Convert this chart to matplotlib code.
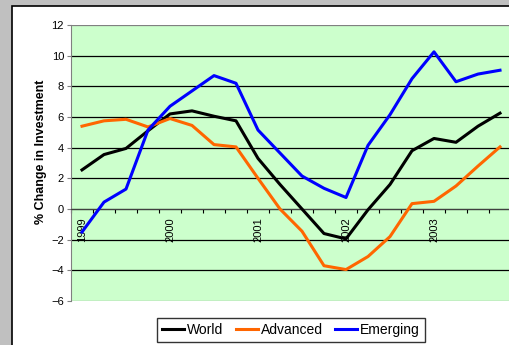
import numpy as np
import matplotlib.pyplot as plt
from matplotlib.patches import Rectangle

plt.rcParams['font.family'] = ['Liberation Sans', 'DejaVu Sans']

# quarterly % change in investment, 1999Q1 - 2003Q4
years = ["1999", "2000", "2001", "2002", "2003"]
world = [2.55, 3.55, 3.95, 5.1, 6.2, 6.4, 6.05, 5.75, 3.3, 1.6,
         0.0, -1.6, -1.95, -0.05, 1.6, 3.8, 4.6, 4.35, 5.4, 6.25]
advanced = [5.4, 5.75, 5.85, 5.35, 5.9, 5.45, 4.2, 4.05, 2.0, 0.0,
            -1.45, -3.7, -3.95, -3.1, -1.8, 0.35, 0.5, 1.5, 2.8, 4.05]
emerging = [-1.5, 0.45, 1.3, 5.15, 6.7, 7.7, 8.7, 8.2, 5.15, 3.65,
            2.15, 1.35, 0.75, 4.15, 6.15, 8.5, 10.25, 8.3, 8.8, 9.05]

W, H = 509, 345
fig = plt.figure(figsize=(W / 100, H / 100), dpi=100)
fig.patch.set_facecolor('#c0c0c0')

# white chart area with black frame
fig.patches.append(Rectangle((12 / W, -0.1), 1.2, 1 - 6 / H + 0.1,
                             transform=fig.transFigure, facecolor='white',
                             edgecolor='black', linewidth=1.2, zorder=-1))

left, right, top, bottom = 71, 511, 25, 301
ax = fig.add_axes([left / W, 1 - bottom / H, (right - left) / W, (bottom - top) / H])
ax.set_facecolor('#ccffcc')

n = len(world)
x = np.arange(n) + 0.5
ax.plot(x, world, color='black', lw=2.2, label='World', zorder=3)
ax.plot(x, advanced, color='#ff6600', lw=2.2, label='Advanced', zorder=3)
ax.plot(x, emerging, color='#0000ff', lw=2.2, label='Emerging', zorder=3)

ax.set_xlim(0, n)
ax.set_ylim(-6, 12)
ax.set_yticks(np.arange(-6, 13, 2))
ax.tick_params(axis='y', labelsize=8, length=3, color='#808080', pad=2)
ax.grid(axis='y', color='black', lw=0.9)
gl = ax.yaxis.get_gridlines()
gl[0].set_color('#808080')
gl[-1].set_color('#808080')
ax.set_axisbelow(True)

# category axis crosses at zero, ticks between quarters
ax.spines['bottom'].set_position(('data', 0))
ax.spines['bottom'].set_color('#404040')
ax.spines['left'].set_color('#808080')
ax.spines['top'].set_visible(False)
ax.spines['right'].set_visible(False)
ax.set_xticks(np.arange(0, n + 1))
ax.set_xticklabels([])
ax.tick_params(axis='x', which='major', length=3, direction='out', color='black')
ax.set_xticks(np.arange(0, n, 4) + 0.5, minor=True)
ax.set_xticklabels(years, minor=True, rotation=90, fontsize=8, va='top')
ax.tick_params(axis='x', which='minor', length=0, pad=6)

fig.text(41 / W, 1 - 152 / H, '% Change in Investment', rotation=90,
         fontsize=9, fontweight='bold', ha='center', va='center')

leg = fig.legend(loc='upper center', bbox_to_anchor=(291 / W, 1 - 318 / H), ncol=3,
                 fontsize=10, frameon=True, fancybox=False, edgecolor='black',
                 handlelength=1.6, handletextpad=0.2, columnspacing=0.9,
                 borderpad=0.35, borderaxespad=0)
leg.get_frame().set_linewidth(1.0)

fig.savefig('out.png', dpi=100, facecolor=fig.get_facecolor())
